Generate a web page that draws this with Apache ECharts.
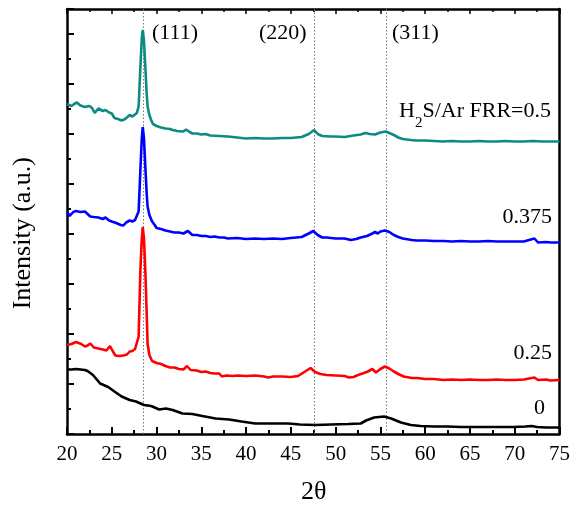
<!DOCTYPE html>
<html><head><meta charset="utf-8">
<script src="https://cdn.jsdelivr.net/npm/echarts@6/dist/echarts.min.js"></script>
<style>html,body{margin:0;padding:0;background:#fff}#c{width:573px;height:506px}</style>
</head><body><div id="c"></div>
<script>
// ---- data ----
const xTicks = [20,25,30,35,40,45,50,55,60,65,70,75];
const peakLines = [28.46, 47.57, 55.6];
const peakNames = ['(111)','(220)','(311)'];
const seriesNames = ['0','0.25','0.375','H2S/Ar FRR=0.5'];

const theta0 = [20,20.5,21,21.5,22,22.3,22.9,23.7,24.6,25.3,26.1,27,27.7,28.6,29.4,30.3,31.05,31.8,32.9,34,35.1,36.6,38.1,39.5,41,42.5,44.7,46,47.7,49.5,51.4,52.8,53.4,54.3,55.4,56.2,57.3,58.4,59.5,61,62.5,64,66.1,68,69.9,71.2,71.9,72.5,73.5,75];
const int0 = [1.29,1.29,1.30,1.29,1.28,1.26,1.18,1.01,0.94,0.85,0.75,0.68,0.65,0.58,0.56,0.49,0.51,0.48,0.41,0.40,0.36,0.31,0.29,0.25,0.21,0.21,0.21,0.19,0.18,0.19,0.20,0.21,0.27,0.33,0.35,0.31,0.23,0.18,0.16,0.15,0.15,0.14,0.14,0.14,0.14,0.15,0.16,0.14,0.13,0.13];

const theta1 = [20,20.5,21,21.2,21.6,22,22.3,22.6,23,23.5,24,24.4,24.8,25.1,25.4,25.8,26.3,26.7,27,27.3,27.6,27.8,28.0,28.2,28.35,28.46,28.6,28.76,28.9,29.0,29.2,29.5,30,30.5,31,31.5,32,32.5,33,33.4,33.8,34.5,35,35.5,36,36.5,37,37.3,37.8,38.5,39,40,41,42,42.5,43,44,45,45.8,46.5,47.2,47.7,48.3,49,50,51,51.5,52,52.5,53,53.6,54.1,54.5,55,55.5,56,56.5,57,57.6,58.5,59.1,60,61,62,63,64,65,66,67,68,69,70,71,72.2,72.6,73.5,74,75];
const int1 = [1.78,1.80,1.84,1.86,1.80,1.75,1.77,1.81,1.73,1.71,1.69,1.67,1.76,1.66,1.57,1.56,1.57,1.59,1.65,1.66,1.70,1.72,1.95,3.3,3.9,4.14,3.9,3.2,2.4,1.8,1.58,1.46,1.42,1.40,1.36,1.33,1.33,1.30,1.29,1.36,1.28,1.27,1.24,1.25,1.22,1.21,1.21,1.15,1.17,1.16,1.17,1.16,1.17,1.15,1.13,1.15,1.15,1.14,1.16,1.24,1.32,1.24,1.20,1.18,1.17,1.16,1.13,1.14,1.18,1.21,1.25,1.30,1.23,1.30,1.35,1.31,1.25,1.20,1.15,1.12,1.12,1.10,1.10,1.08,1.09,1.08,1.09,1.08,1.08,1.09,1.08,1.08,1.09,1.13,1.08,1.09,1.07,1.08];

const theta2 = [20,20.3,20.7,21,21.5,22,22.3,22.6,23,23.5,24,24.3,24.7,25,25.5,26,26.3,26.6,27,27.3,27.6,27.8,28.0,28.2,28.35,28.46,28.6,28.76,28.9,29.0,29.2,29.5,29.8,30,30.5,31,31.5,32,32.5,33,33.5,34,34.5,35,35.5,36,36.5,37,37.5,38,39,40,41,42,43,44,45,46.2,47,47.5,48,48.5,49,50,51,51.7,52.3,52.8,53.5,54.1,54.4,54.7,55,55.5,56,56.5,57,57.5,58.5,59,60,61,62,63,64,65,66,67,68,69,70,71,72.2,72.6,73.5,74,75];
const int2 = [4.45,4.36,4.44,4.46,4.44,4.45,4.40,4.35,4.34,4.33,4.30,4.33,4.27,4.25,4.22,4.18,4.17,4.23,4.27,4.25,4.28,4.30,4.45,5.3,5.9,6.14,5.9,5.3,4.8,4.55,4.38,4.25,4.18,4.12,4.10,4.07,4.05,4.03,4.03,4.01,4.06,3.98,3.98,3.96,3.96,3.94,3.95,3.93,3.93,3.91,3.92,3.90,3.91,3.90,3.91,3.90,3.92,3.94,4.01,4.06,3.98,3.93,3.93,3.91,3.91,3.88,3.90,3.93,3.96,4.01,4.04,4.01,4.05,4.07,4.04,3.98,3.94,3.91,3.88,3.87,3.87,3.86,3.86,3.85,3.86,3.85,3.85,3.86,3.85,3.85,3.85,3.85,3.91,3.83,3.84,3.83,3.83];

const theta3 = [20,20.5,20.8,21.1,21.5,22,22.5,22.8,23.1,23.5,24,24.3,24.7,25,25.3,25.7,26.1,26.5,27,27.3,27.5,27.8,28.0,28.2,28.35,28.46,28.6,28.76,28.9,29.0,29.2,29.4,29.6,30,30.5,31,31.5,31.8,32.3,33,33.3,33.7,34,34.5,35,35.5,36,37,38,39,40,41,42,43,44,45,46.2,47,47.6,48,48.5,49.5,50,51,52,52.8,53.3,53.8,54.4,55,55.6,56,56.5,57,57.5,58.4,59,60,61,62,63,64,65,66,67,68,69,70,71,72,73,74,75];
const int3 = [6.60,6.56,6.60,6.63,6.57,6.54,6.56,6.52,6.42,6.51,6.46,6.48,6.43,6.41,6.32,6.30,6.27,6.30,6.38,6.35,6.36,6.42,6.55,7.35,7.9,8.08,7.85,7.3,6.8,6.55,6.38,6.28,6.20,6.16,6.13,6.11,6.10,6.08,6.06,6.05,6.09,6.04,6.01,6.01,5.99,6.00,5.97,5.96,5.95,5.93,5.91,5.92,5.91,5.91,5.92,5.92,5.94,6.00,6.08,6.00,5.96,5.95,5.95,5.94,5.97,5.99,6.02,6.00,5.99,6.03,6.05,6.02,5.98,5.93,5.90,5.88,5.87,5.87,5.86,5.85,5.86,5.85,5.85,5.86,5.85,5.85,5.86,5.85,5.85,5.86,5.85,5.85,5.85];

// ---- chart ----
const pair = (xs, ys) => xs.map((x, i) => [x, ys[i]]);
const colors = ['#000000', '#ff0000', '#0000ff', '#0d8a84'];
const FF = '"Liberation Serif", "Times New Roman", serif';
const chart = echarts.init(document.getElementById('c'), null, {renderer: 'canvas'});

const mkLine = (name, xs, ys, color, extra) => Object.assign({
  name, type: 'line', data: pair(xs, ys), showSymbol: false, symbol: 'none',
  lineStyle: {color, width: 2.6}, itemStyle: {color}, z: 3, animation: false
}, extra || {});

const series = [
  mkLine(seriesNames[0], theta0, int0, colors[0], {
    markLine: {
      silent: true, symbol: ['none', 'none'], label: {show: false},
      lineStyle: {type: [1.5, 2], color: '#777', width: 1},
      data: peakLines.map(v => ({xAxis: v})), animation: false, z: 1
    }
  }),
  mkLine(seriesNames[1], theta1, int1, colors[1]),
  mkLine(seriesNames[2], theta2, int2, colors[2]),
  mkLine(seriesNames[3], theta3, int3, colors[3])
];

const grid = {left: 67, right: 10, top: 9, bottom: 72, containLabel: false};
const T = (txt, size) => ({text: txt, fontFamily: FF, fontSize: size, fill: '#000'});

const graphic = [];
peakNames.forEach((n, i) => {
  graphic.push({type: 'text', left: [152, 259, 392][i], top: 22, style: T(n, 22)});
});
graphic.push({type: 'text', right: 22, top: 100, style: {
  text: '{t|H}{s|2}{t|S/Ar FRR=0.5}', fill: '#000',
  rich: {t: {fontFamily: FF, fontSize: 22, color: '#000', height: 26, verticalAlign: 'top'},
         s: {fontFamily: FF, fontSize: 15, color: '#000', height: 26, padding: [12, 0, 0, 0], verticalAlign: 'top'}}
}});
graphic.push({type: 'text', right: 21, top: 206, style: T(seriesNames[2], 22)});
graphic.push({type: 'text', right: 21, top: 342, style: T(seriesNames[1], 22)});
graphic.push({type: 'text', right: 28, top: 397, style: T(seriesNames[0], 22)});
graphic.push({type: 'text', left: 10, top: 157, rotation: Math.PI / 2,
  style: T('Intensity (a.u.)', 26)});
graphic.push({type: 'text', left: 301, top: 479, style: T('2θ', 26)});

chart.setOption({
  animation: false,
  backgroundColor: '#fff',
  grid,
  textStyle: {fontFamily: FF},
  xAxis: [
    {type: 'value', min: 20, max: 75, interval: 5, position: 'bottom',
     axisLine: {show: true, onZero: false, lineStyle: {color: '#000', width: 2.5}},
     axisTick: {show: true, inside: true, length: 7, lineStyle: {color: '#000', width: 2}},
     minorTick: {show: true, splitNumber: 2, length: 4, lineStyle: {color: '#000', width: 2}},
     axisLabel: {show: true, margin: 10, color: '#000',
       formatter: v => xTicks.includes(v) ? '{n|' + v + '}' : '',
       rich: {n: {fontFamily: FF, fontSize: 21, color: '#000'}}},
     splitLine: {show: false}, minorSplitLine: {show: false}},
    {type: 'value', min: 20, max: 75, interval: 5, position: 'top',
     axisLine: {show: true, onZero: false, lineStyle: {color: '#000', width: 2.5}},
     axisTick: {show: true, inside: true, length: 5, lineStyle: {color: '#000', width: 1.5}},
     minorTick: {show: true, splitNumber: 2, length: 3, lineStyle: {color: '#000', width: 1.5}},
     axisLabel: {show: false}, splitLine: {show: false}}
  ],
  yAxis: [
    {type: 'value', min: 0, max: 8.5, interval: 1, position: 'left',
     axisLine: {show: true, onZero: false, lineStyle: {color: '#000', width: 2.5}},
     axisTick: {show: true, inside: true, length: 7, lineStyle: {color: '#000', width: 2}},
     minorTick: {show: true, splitNumber: 2, length: 4, lineStyle: {color: '#000', width: 2}},
     axisLabel: {show: false}, splitLine: {show: false}},
    {type: 'value', min: 0, max: 8.5, interval: 1, position: 'right',
     axisLine: {show: true, onZero: false, lineStyle: {color: '#000', width: 2.5}},
     axisTick: {show: false}, axisLabel: {show: false}, splitLine: {show: false}}
  ],
  series,
  graphic
});
</script></body></html>
